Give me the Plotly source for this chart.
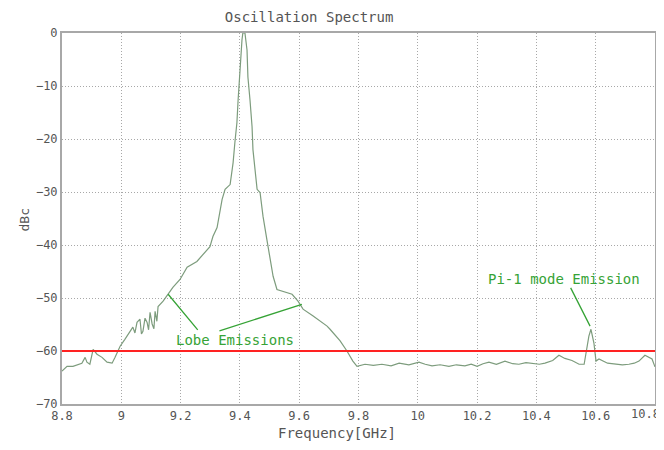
import plotly.graph_objects as go

# spectrum
freq_ghz = [
    8.800, 8.817, 8.837, 8.850, 8.867, 8.878, 8.884, 8.894, 8.905, 8.918,
    8.935, 8.952, 8.969, 8.979, 8.996, 9.012, 9.029, 9.039, 9.046, 9.053,
    9.063, 9.068, 9.073, 9.080, 9.087, 9.092, 9.097, 9.104, 9.110, 9.114,
    9.120, 9.124, 9.141, 9.158, 9.174, 9.198, 9.222, 9.255, 9.282, 9.299,
    9.309, 9.323, 9.340, 9.350, 9.367, 9.377, 9.383, 9.390, 9.394, 9.400,
    9.407, 9.410, 9.417, 9.424, 9.427, 9.434, 9.441, 9.444, 9.451, 9.458,
    9.468, 9.478, 9.491, 9.502, 9.512, 9.525, 9.545, 9.576, 9.596, 9.613,
    9.647, 9.694, 9.704, 9.738, 9.761, 9.781, 9.795, 9.822, 9.850, 9.879,
    9.910, 9.937, 9.970, 10.004, 10.025, 10.048, 10.075, 10.105, 10.130,
    10.159, 10.180, 10.200, 10.220, 10.240, 10.265, 10.294, 10.320, 10.341,
    10.365, 10.385, 10.410, 10.429, 10.455, 10.476, 10.496, 10.520, 10.544,
    10.561, 10.571, 10.577, 10.584, 10.594, 10.601, 10.611, 10.640, 10.665,
    10.690, 10.712, 10.730, 10.746, 10.766, 10.790, 10.800,
]
level_dbc = [
    -63.8, -62.9, -62.9, -62.6, -62.3, -61.2, -62.1, -62.5, -59.7, -60.6,
    -61.2, -62.1, -62.3, -61.2, -59.1, -57.8, -56.5, -55.5, -56.6, -54.6,
    -54.0, -56.8, -56.3, -53.8, -54.6, -56.0, -52.7, -54.9, -55.8, -52.5,
    -54.4, -51.6, -50.6, -49.3, -48.0, -46.5, -44.2, -43.1, -41.4, -40.3,
    -38.4, -36.7, -31.4, -29.5, -28.6, -24.5, -20.7, -16.9, -12.6, -6.4,
    -1.3, 0.0, 0.0, -3.2, -8.3, -12.6, -17.7, -22.0, -26.3, -29.5,
    -30.1, -34.6, -39.0, -42.7, -45.9, -48.4, -48.7, -49.3, -50.6, -52.1,
    -53.4, -55.3, -55.9, -58.1, -60.0, -61.9, -62.9, -62.5, -62.7, -62.5,
    -62.8, -62.3, -62.6, -62.1, -62.5, -62.8, -62.6, -62.9, -62.6,
    -62.8, -62.5, -62.9, -62.4, -62.1, -62.5, -61.9, -62.4, -62.5,
    -62.2, -62.3, -62.5, -62.3, -61.8, -60.8, -61.4, -61.8, -62.5,
    -62.5, -59.2, -57.2, -55.9, -58.5, -61.9, -61.5, -62.3, -62.5,
    -62.6, -62.5, -62.3, -61.9, -60.8, -61.5, -63.0,
]
threshold_dbc = -60

x_ticks = [8.8, 9.0, 9.2, 9.4, 9.6, 9.8, 10.0, 10.2, 10.4, 10.6, 10.8]
x_labels = ["8.8", "9", "9.2", "9.4", "9.6", "9.8", "10", "10.2", "10.4", "10.6", "10.8"]

font_name = "DejaVu Sans Mono"
text_grey = "#555555"
note_green = "#36a336"
grid_grey = "#a8a8a8"

fig = go.Figure()
fig.add_trace(go.Scatter(x=freq_ghz, y=level_dbc, mode="lines",
                         line={"color": "#7d9c7d", "width": 1.2}))
fig.add_trace(go.Scatter(x=[x_ticks[0], x_ticks[-1]], y=[threshold_dbc, threshold_dbc],
                         mode="lines", line={"color": "#ff2222", "width": 2}))

# leader lines of the notes
leaders = [
    (9.158, -49.3, 9.262, -56.3),
    (9.609, -51.2, 9.326, -56.3),
    (10.581, -55.3, 10.513, -47.8),
]
for x0, y0, x1, y1 in leaders:
    fig.add_annotation(x=x0, y=y0, ax=x1, ay=y1, axref="x", ayref="y",
                       text="", showarrow=True, arrowhead=0,
                       arrowwidth=1.3, arrowcolor=note_green)

fig.add_annotation(x=9.382, y=-58.0, text="Lobe Emissions", showarrow=False,
                   font={"family": font_name, "size": 14, "color": note_green})
fig.add_annotation(x=10.493, y=-46.5, text="Pi-1 mode Emission", showarrow=False,
                   font={"family": font_name, "size": 14, "color": note_green})

# axis titles placed like the original
fig.add_annotation(xref="paper", yref="paper", x=0.464, y=0, yshift=-39,
                   text="Frequency[GHz]", showarrow=False,
                   font={"family": font_name, "size": 14, "color": text_grey})
fig.add_annotation(xref="paper", yref="paper", x=0, y=0.496, xshift=-47,
                   text="dBc", textangle=-90, showarrow=False,
                   font={"family": font_name, "size": 13, "color": text_grey})
# last tick label, which plotly drops at the edge; kept just inside the page
fig.add_annotation(x=x_ticks[-1], yref="paper", y=0, yshift=-19,
                   xanchor="right", xshift=7,
                   text=x_labels[-1], showarrow=False,
                   font={"family": font_name, "size": 12, "color": text_grey})

# page body has an 8px margin, so the figure is 8px smaller each way
fig.update_layout(
    width=656, height=442,
    margin={"l": 54, "r": 9, "t": 25, "b": 46, "autoexpand": False},
    paper_bgcolor="white", plot_bgcolor="white",
    showlegend=False,
    font={"family": font_name, "size": 12, "color": text_grey},
    title={"text": "Oscillation Spectrum", "x": 0.459, "xanchor": "center",
           "y": 0.98, "yref": "container", "yanchor": "middle",
           "font": {"family": font_name, "size": 14, "color": text_grey}},
)
fig.update_xaxes(range=[8.8, 10.8], tickvals=x_ticks, ticktext=x_labels,
                 showgrid=True, gridcolor=grid_grey, griddash="1px,2px", gridwidth=1,
                 showline=True, linecolor=grid_grey, linewidth=2, mirror=True,
                 zeroline=False, ticks="", automargin=False)
fig.update_yaxes(range=[-70, 0], dtick=10,
                 showgrid=True, gridcolor=grid_grey, griddash="1px,2px", gridwidth=1,
                 showline=True, linecolor=grid_grey, linewidth=2, mirror=True,
                 zeroline=False, ticks="", automargin=False)

fig.write_html("out.html")
